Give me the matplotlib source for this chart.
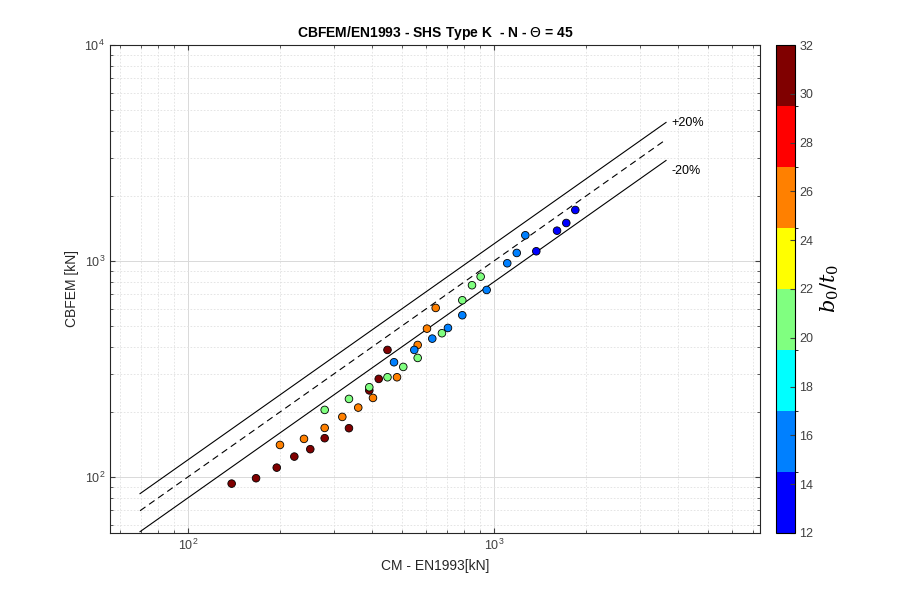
import matplotlib.pyplot as plt
import numpy as np
from matplotlib.colors import ListedColormap, BoundaryNorm

# b0/t0 groups: (x = CM - EN1993 [kN], y = CBFEM [kN])
ratio_31_x = [138.9, 166.9, 195.0, 222.6, 251.0, 279.7, 335.8, 391.3, 420.1, 448.7]
ratio_31_y = [93.1, 98.6, 110.4, 124.2, 134.4, 151.1, 168.1, 251.5, 284.3, 387.3]
ratio_26_x = [199.8, 239.4, 279.7, 319.4, 360.1, 402.3, 482.0, 563.2, 604.0, 645.0]
ratio_26_y = [140.6, 150.0, 168.6, 189.6, 209.4, 232.2, 289.4, 408.3, 486.0, 606.0]
ratio_21_x = [279.7, 335.8, 391.3, 448.7, 505.3, 563.2, 676.0, 787.9, 847.6, 904.6]
ratio_21_y = [204.3, 229.7, 260.2, 289.4, 323.1, 355.6, 462.8, 657.7, 772.0, 846.0]
ratio_16_x = [471.3, 549.0, 628.5, 707.3, 787.9, 946.4, 1105, 1187, 1266]
ratio_16_y = [339.6, 387.3, 436.9, 489.6, 560.6, 734.0, 975.8, 1089, 1315]
ratio_13_x = [1375, 1607, 1723, 1844]
ratio_13_y = [1109, 1381, 1499, 1722]

groups = [(ratio_31_x, ratio_31_y, 31), (ratio_26_x, ratio_26_y, 26),
          (ratio_21_x, ratio_21_y, 21), (ratio_16_x, ratio_16_y, 16),
          (ratio_13_x, ratio_13_y, 13)]

line_x = [69.7, 3650]

plt.rcParams.update({"font.family": ["Liberation Sans", "DejaVu Sans"], "font.size": 9,
                     "mathtext.fontset": "dejavuserif"})

cmap = ListedColormap([(0, 0, 1), (0, 0.5, 1), (0, 1, 1), (0.5, 1, 0.5),
                       (1, 1, 0), (1, 0.5, 0), (1, 0, 0), (0.5, 0, 0)])
bounds = np.linspace(12, 32, 9)
norm = BoundaryNorm(bounds, cmap.N)

fig = plt.figure(figsize=(9, 6), dpi=100)
ax = fig.add_axes([0.1222, 0.1117, 0.7222, 0.8133])
cax = fig.add_axes([0.862, 0.1117, 0.021, 0.8133])

lx = np.array(line_x)
ax.plot(lx, lx, color="k", ls=(0, (6, 4)), lw=0.8)
ax.plot(lx, 1.2 * lx, color="k", lw=0.8)
ax.plot(lx, 0.8 * lx, color="k", lw=0.8)
ax.text(3800, 4350, "+20%", fontsize=9, va="center")
ax.text(3800, 2620, "-20%", fontsize=9, va="center")

for xs, ys, r in groups:
    sc = ax.scatter(xs, ys, c=[r] * len(xs), cmap=cmap, norm=norm, s=30,
                    edgecolors="k", linewidths=0.6, zorder=3)

ax.set_xscale("log")
ax.set_yscale("log")
ax.set_xlim(55.6, 7400)
ax.set_ylim(55, 1e4)
ax.grid(True, which="major", color="0.85", lw=0.7)
ax.grid(True, which="minor", color="0.88", ls=(0, (2, 2)), lw=0.6)
ax.set_axisbelow(True)
ax.tick_params(which="both", direction="in", top=True, right=True, colors="0.25")
for s in ax.spines.values():
    s.set_color("0.15")
ax.set_xlabel("CM - EN1993[kN]", fontsize=10, color="0.15")
ax.set_ylabel("CBFEM [kN]", fontsize=10, color="0.15")
ax.set_title("CBFEM/EN1993 - SHS Type K  - N - $\\mathsf{\\Theta}$ = 45", fontsize=10, fontweight="bold")

cb = fig.colorbar(sc, cax=cax, ticks=np.arange(12, 33, 2))
cb.ax.tick_params(direction="in", labelsize=9, colors="0.25")
cb.set_label("$b_0/t_0$", fontsize=15)

fig.savefig("out.png", dpi=100)
